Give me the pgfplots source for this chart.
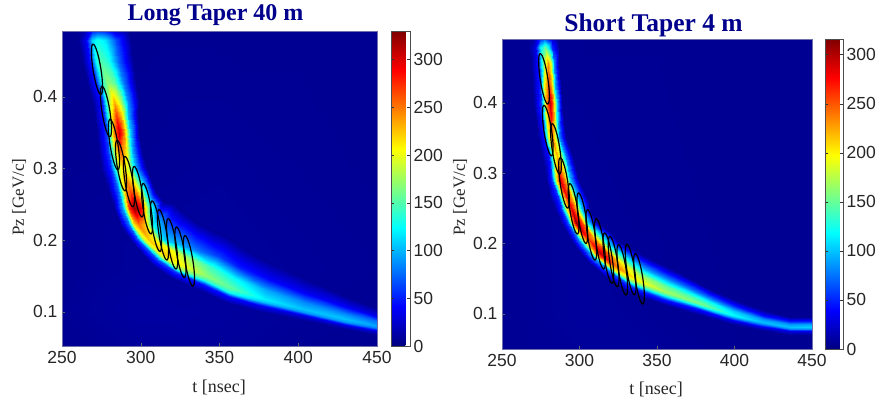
\documentclass[border=0pt]{standalone}
\usepackage{pgfplots}
\pgfplotsset{compat=1.18}
\usepackage{pgfplotstable}
\usepackage{fontspec}
\setmainfont{Liberation Sans}
\newfontfamily\serif{Liberation Serif}
\definecolor{titleblue}{RGB}{0,0,140}
\definecolor{boxc}{RGB}{110,110,170}
\pgfdeclareplotmark{ellL}{\pgfpathellipse{\pgfpointorigin}{\pgfpoint{-4pt}{25.2pt}}{\pgfpoint{3.9pt}{0.62pt}}\pgfusepathqstroke}
\pgfdeclareplotmark{ellR}{\pgfpathellipse{\pgfpointorigin}{\pgfpoint{-3.8pt}{25.2pt}}{\pgfpoint{3.8pt}{0.57pt}}\pgfusepathqstroke}

\pgfplotstableread{
t p v
250 .0525 6
300 .0525 9
350 .0525 9
400 .0525 7
450 .0525 6
250 .10 7
300 .10 11
350 .10 10
400 .10 8
450 .10 6
250 .16 6
300 .16 9
350 .16 10
400 .16 8
450 .16 7
250 .30 6
300 .30 7
350 .30 8
400 .30 7
450 .30 6
250 .492 6
300 .492 6
350 .492 6
400 .492 6
450 .492 6
}\bgL

\pgfplotstableread{
t p v
259 .492 6
264.9 .492 18
268.8 .492 51
272 .492 60
277 .492 54
283 .492 30
292 .492 6
260 .48 6
265.4 .48 39
269 .48 110
272 .48 130
277.5 .48 117
284.1 .48 65
294 .48 6
263 .45 6
268 .45 45
271.3 .45 128
274 .45 150
279.3 .45 135
285.6 .45 75
295 .45 6
266 .42 6
271.8 .42 51
275.8 .42 144
279 .42 170
283.5 .42 153
288.9 .42 85
297 .42 6
269 .395 6
275.3 .395 50
279.5 .395 172
283 .395 230
287 .395 184
291.8 .395 85
299 .395 6
270.5 .375 6
276.8 .375 58
281 .375 202
284.5 .375 270
288 .375 216
292.2 .375 98
298.5 .375 6
272 .35 6
278.3 .35 66
282.5 .35 232
286 .35 310
289.3 .35 248
293.2 .35 112
299 .35 6
273 .325 6
279.3 .325 60
283.5 .325 205
287 .325 260
290.5 .325 215
294.7 .325 100
301 .325 6
275 .30 6
281.3 .30 55
285.5 .30 175
289 .30 220
292.8 .30 185
297.3 .30 95
304 .30 6
279 .27 6
285.3 .27 75
289.5 .27 221
293 .27 260
297 .27 234
301.8 .27 130
309 .27 6
283 .245 6
288.9 .245 98
292.8 .245 276
296 .245 325
300 .245 292
304.8 .245 162
314 .255 6
287 .222 6
292.4 .222 75
296 .222 212
299 .222 250
303 .222 225
307.8 .222 125
322 .25 6
293 .20 6
298.4 .20 66
302 .20 187
305 .20 225
309.5 .20 203
314.9 .20 110
330 .235 6
307 .165 6
311 .1718 66
313.8 .1763 187
316 .18 225
320 .1863 203
324.8 .1938 100
336 .225 6
319 .147 6
322.2 .1551 60
324.3 .1605 170
326 .165 205
330 .175 175
334.8 .187 80
342 .218 6
337 .13 6
339.3 .139 50
340.8 .145 140
342 .15 170
345.5 .1625 140
349.7 .1775 60
356 .205 6
354 .113 6
355.4 .122 46
356.3 .128 132
357 .133 155
359.5 .1468 125
362.5 .1633 50
367 .188 6
376 .10 6
376.9 .1081 36
377.5 .1135 102
378 .118 120
379.5 .1305 96
381.3 .1455 40
384 .168 6
402 .089 6
402.5 .0958 32
402.8 .1003 89
403 .104 105
404 .114 84
405.2 .126 37
407 .144 6
429 .076 6
429.5 .0823 32
429.8 .0865 89
430 .09 105
430.8 .0975 84
431.7 .1065 37
433 .12 6
450 .068 6
450 .0739 28
450 .0778 81
450 .081 95
450 .0873 76
450 .0948 33
450 .106 6
}\bandL

\pgfplotstableread{
t p
272.2 .4385
277.9 .3797
283.0 .3336
287.5 .3042
292.5 .2818
298.3 .2678
304.0 .2441
309.7 .2196
314.1 .2077
319.9 .1951
325.2 .1832
330.6 .1713
}\ellL

\pgfplotstableread{
t p v
250 .05 6
300 .05 8
350 .05 8
400 .05 6
450 .05 6
250 .10 6
300 .10 9
350 .10 7
400 .10 6
450 .10 6
250 .491 6
300 .491 6
350 .491 6
400 .491 6
450 .491 6
}\bgR

\pgfplotstableread{
t p v
266 .491 6
270.95 .491 14
274.25 .491 52
277 .491 70
279.25 .491 56
281.95 .491 24
286 .491 6
266.5 .48 6
271.5 .48 30
274.8 .48 112
277.5 .48 150
279.8 .48 120
282.5 .48 52
286.5 .48 6
268.5 .457 6
273.5 .457 46
276.8 .457 172
279.5 .457 230
281.3 .457 184
283.4 .457 80
286.5 .457 6
269.5 .425 6
274.2 .425 52
277.4 .425 195
280 .425 260
282 .425 208
284.4 .425 91
288 .425 6
270 .40 6
275 .40 60
278.3 .40 225
281 .40 300
283 .40 240
285.4 .40 105
289 .40 6
273 .352 6
277 .352 48
279.8 .352 180
282 .352 240
284.3 .352 192
287 .352 84
291 .352 6
275.5 .323 6
280 .323 44
283 .323 165
285.5 .323 220
288 .323 176
291 .323 77
295.5 .323 6
278.5 .29 6
282.5 .29 58
285.3 .29 218
287.5 .29 290
290.5 .29 232
294.1 .29 102
299.5 .29 6
281.5 .262 6
286.5 .262 54
289.8 .262 202
292.5 .262 270
295.8 .262 216
299.7 .262 94
305.5 .262 6
284 .248 6
289 .248 58
292.3 .248 218
295 .248 290
298 .248 232
301.6 .248 102
307 .248 6
288 .229 6
292.5 .229 64
295.5 .229 240
298 .229 320
301.5 .229 256
305.7 .229 112
312 .229 6
296 .200 6
300.5 .2023 78
303.5 .2038 208
306 .205 260
309.5 .2075 221
313.7 .2105 117
320 .215 6
305 .175 6
308.6 .1804 90
311 .184 240
313 .187 300
315.8 .191 255
319.1 .1958 135
324 .203 6
318 .151 6
320.7 .1582 72
322.5 .163 192
324 .167 240
326.8 .173 204
330.1 .1802 108
335 .191 6
333 .13 6
334.8 .1381 60
336 .1435 160
337 .148 200
339.3 .1555 170
342 .1645 90
346 .178 6
353.5 .114 6
354.6 .1217 51
355.4 .1268 136
356 .131 170
357.5 .1385 145
359.3 .1475 77
362 .161 6
378 .098 6
378.9 .1048 46
379.5 .1093 124
380 .113 155
381 .1188 132
382.2 .1257 70
384 .136 6
398 .0856 6
398.5 .0915 36
398.8 .0954 96
399 .0986 120
399.8 .1036 102
400.7 .1096 54
402 .1186 6
417 .0766 6
417.5 .082 30
417.8 .0856 80
418 .0886 100
418.5 .0926 85
419.1 .0974 45
420 .1046 6
436 .0705 6
436 .0755 30
436 .0788 80
436 .0815 100
436 .085 85
436 .0892 45
436 .0955 6
450 .0705 6
450 .0755 32
450 .0788 84
450 .0815 105
450 .085 89
450 .0892 47
450 .0955 6
}\bandR

\pgfplotstableread{
t p
277.1 .4343
279.5 .3607
284.8 .3347
290.0 .2863
296.2 .2494
301.8 .2361
307.6 .2124
313.2 .1996
318.6 .1792
322.0 .1744
327.6 .1626
333.0 .1630
338.4 .1498
}\ellR

\pgfplotsset{
  common/.style={
    scale only axis,
    anchor=south west,
    xmin=250,xmax=450,
    xtick={250,300,350,400,450},
    ytick={0.1,0.2,0.3,0.4},
    yticklabel style={/pgf/number format/fixed,/pgf/number format/precision=1},
    tick label style={font=\fontsize{17.5}{17.5}\selectfont,text=black!85},
    /pgf/number format/assume math mode=true,
    axis line style={draw=boxc,line width=0.5pt},
    tick style={draw=black!60,line width=0.4pt},
    tick align=inside,
    major tick length=3pt,
    xtick pos=bottom, ytick pos=left,
    x tick label style={yshift=-2pt},
    y tick label style={xshift=-1pt},
    colormap/jet,
    point meta min=0,
    colorbar,
    axis on top,
  },
  heat/.style={surf,shader=interp,point meta=explicit,mesh/ordering=x varies},
  barstyle/.style={
    colorbar style={
      at={(parent axis.north east)},
      anchor=north west,
      xshift=#1,
      ytick={0,50,100,150,200,250,300},
      tick label style={font=\fontsize{17.5}{17.5}\selectfont,text=black!85},
      /pgf/number format/assume math mode=true,
      yticklabel pos=right,
      tick align=inside,
      major tick length=3pt,
      axis line style={draw=black!70,line width=0.5pt},
      tick style={draw=black!80,line width=0.4pt},
    }},
}

\begin{document}
\begin{tikzpicture}[x=1pt,y=1pt]
\path[use as bounding box] (0,0) rectangle (880,402);
\begin{axis}[common,barstyle=5.5pt,colorbar style={width=19pt},
  at={(62pt,56pt)},width=315pt,height=315pt,
  ymin=0.0525,ymax=0.492,point meta max=330]
\addplot[heat,mesh/cols=5] table[x=t,y=p,meta=v] {\bgL};
\addplot[heat,mesh/cols=7] table[x=t,y=p,meta=v] {\bandL};
\addplot[only marks,mark=ellL,mark options={draw=black,line width=1.2pt}] table[x=t,y=p] {\ellL};
\end{axis}
\begin{axis}[common,barstyle=4.5pt,colorbar style={width=18pt},
  at={(502pt,53pt)},width=310pt,height=310pt,
  ymin=0.05,ymax=0.491,point meta max=316]
\addplot[heat,mesh/cols=5] table[x=t,y=p,meta=v] {\bgR};
\addplot[heat,mesh/cols=7] table[x=t,y=p,meta=v] {\bandR};
\addplot[only marks,mark=ellR,mark options={draw=black,line width=1.2pt}] table[x=t,y=p] {\ellR};
\end{axis}
\node[text=titleblue,font=\serif\bfseries\fontsize{24}{24}\selectfont] at (215.5,387) {Long Taper 40 m};
\node[text=titleblue,font=\serif\bfseries\fontsize{25.5}{25.5}\selectfont] at (653.5,377) {Short Taper 4 m};
\node[text=black!85,font=\serif\fontsize{18}{18}\selectfont] at (219,15) {t [nsec]};
\node[text=black!85,font=\serif\fontsize{18}{18}\selectfont] at (656,13) {t [nsec]};
\node[text=black!85,rotate=90,font=\serif\fontsize{17}{17}\selectfont] at (19,205) {Pz [GeV/c]};
\node[text=black!85,rotate=90,font=\serif\fontsize{17}{17}\selectfont] at (460,205) {Pz [GeV/c]};
\end{tikzpicture}
\end{document}
